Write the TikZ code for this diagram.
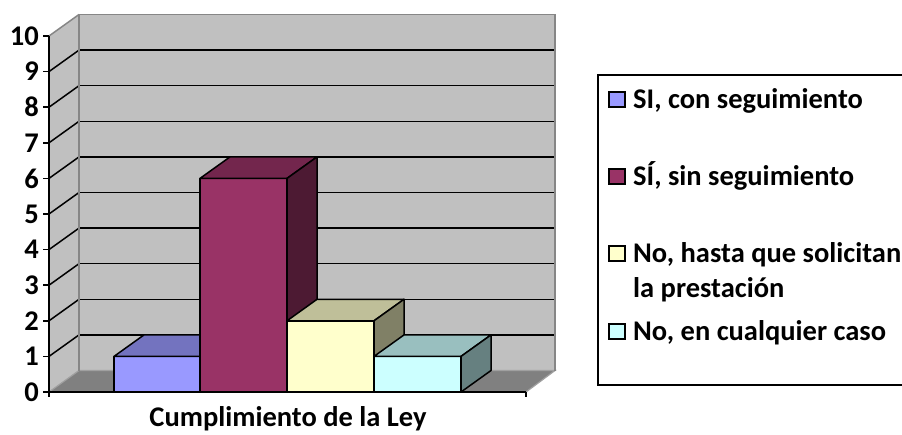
\documentclass[tikz,border=0pt]{standalone}
\usepackage{fontspec}
\setmainfont{Carlito}
\definecolor{wall}{HTML}{C0C0C0}
\definecolor{walledge}{HTML}{868686}
\definecolor{floorc}{HTML}{808080}
\definecolor{flooredge}{HTML}{A0A0A0}
\definecolor{bAf}{HTML}{9999FF}\definecolor{bAt}{HTML}{7373BF}\definecolor{bAs}{HTML}{4D4D80}
\definecolor{bBf}{HTML}{993366}\definecolor{bBt}{HTML}{73264D}\definecolor{bBs}{HTML}{4D1A33}
\definecolor{bCf}{HTML}{FFFFCC}\definecolor{bCt}{HTML}{BFBF99}\definecolor{bCs}{HTML}{808066}
\definecolor{bDf}{HTML}{CCFFFF}\definecolor{bDt}{HTML}{99BFBF}\definecolor{bDs}{HTML}{668080}
\tikzset{
  barline/.style={draw=black,line width=1.5pt,line join=round},
  gridline/.style={draw=black,line width=1.5pt},
  lbl/.style={font=\fontsize{28.5}{34}\selectfont\bfseries,inner sep=0pt},
  markbox/.style={draw=black,line width=1.3pt},
}
\newcommand\mybar[6]{%
  \pgfmathsetmacro\yt{392-#3*35.6}
  \filldraw[fill=#4,barline] (#1,392) rectangle (#2,\yt);
  \filldraw[fill=#5,barline] (#1,\yt) -- ({#1+30},{\yt-21.5}) -- ({#2+30},{\yt-21.5}) -- (#2,\yt) -- cycle;
  \filldraw[fill=#6,barline] (#2,392) -- ({#2+30},370.5) -- ({#2+30},{\yt-21.5}) -- (#2,\yt) -- cycle;
}
\begin{document}
\begin{tikzpicture}[x=1pt,y=-1pt]
\clip (0,0) rectangle (902,434);
\fill[white] (0,0) rectangle (902,434);
% back wall
\fill[wall] (79,370.5) rectangle (555,14.5);
% side wall
\fill[wall] (49,392) -- (79,370.5) -- (79,14.5) -- (49,36) -- cycle;
% floor
\fill[floorc] (49,392) -- (79,370.5) -- (555,370.5) -- (526,392) -- cycle;
\draw[flooredge,line width=1.2pt] (49,392) -- (79,370.5) -- (555,370.5) -- (526,392);
% grid lines
\foreach \i in {1,...,9}{
  \draw[gridline] (79,{370.5-\i*35.6}) -- (555,{370.5-\i*35.6});
  \draw[gridline] (49,{392-\i*35.6}) -- (79,{370.5-\i*35.6});
}
% wall edges
\draw[walledge,line width=1.5pt] (79,370.5) -- (79,14.5) -- (555,14.5) -- (555,370.5);
\draw[walledge,line width=1.5pt] (49,36) -- (79,14.5);
% axes
\draw[black,line width=1.6pt] (49,36) -- (49,392) -- (526,392);
\draw[black,line width=1.6pt] (49,392) -- (49,397);
\draw[black,line width=1.6pt] (526,392) -- (526,397);
\foreach \i in {0,...,10}{
  \draw[black,line width=1.6pt] (43,{392-\i*35.6}) -- (49,{392-\i*35.6});
  \node[lbl,anchor=east] (y\i) at (39,{392-\i*35.6}) {\i};
}
% bars
\mybar{114}{200}{1}{bAf}{bAt}{bAs}
\mybar{200}{287}{6}{bBf}{bBt}{bBs}
\mybar{287}{374}{2}{bCf}{bCt}{bCs}
\mybar{374}{461}{1}{bDf}{bDt}{bDs}
% category label
\node[lbl,anchor=base] (cat) at (288,426) {Cumplimiento de la Ley};
% legend
\draw[black,line width=1.6pt] (598,75) rectangle (910,385);
\filldraw[fill=bAf,markbox] (609,92) rectangle (625,107);
\node[lbl,anchor=base west] (l1) at (633,108) {SI, con seguimiento};
\filldraw[fill=bBf,markbox] (609,169) rectangle (625,184);
\node[lbl,anchor=base west] (l2) at (633,185) {SÍ, sin seguimiento};
\filldraw[fill=bCf,markbox] (609,246) rectangle (625,261);
\node[lbl,anchor=base west] (l3) at (633,262) {No, hasta que solicitan};
\node[lbl,anchor=base west] (l3b) at (633,297) {la prestación};
\filldraw[fill=bDf,markbox] (609,324) rectangle (625,339);
\node[lbl,anchor=base west] (l4) at (633,340) {No, en cualquier caso};
\end{tikzpicture}
\end{document}
